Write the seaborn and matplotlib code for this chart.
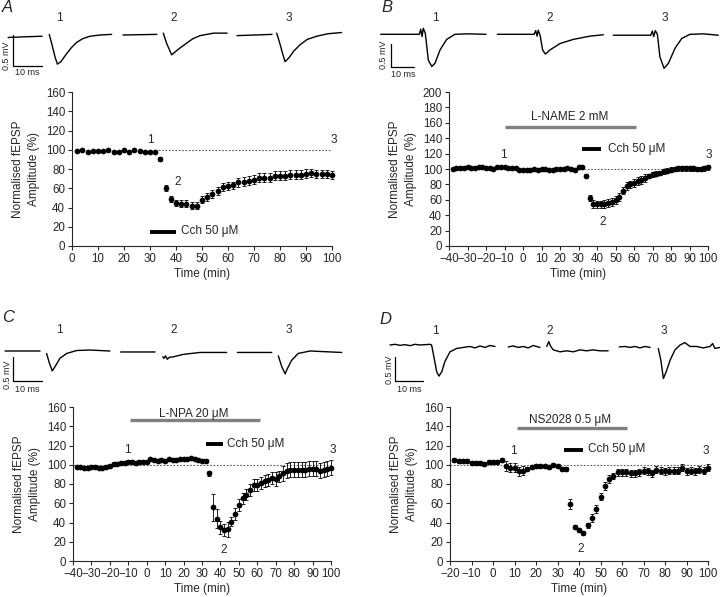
import numpy as np
import matplotlib
matplotlib.use("Agg")
import matplotlib.pyplot as plt
import seaborn as sns

nan = np.nan

# ==========================================
# TIME-COURSE DATA (normalised fEPSP, %)
# ==========================================

time_a = np.arange(2, 101, 2)
amp_a = [99, 100, 98, 99, 99, 99, 100, 98, 98, 100,
         98, 100, 99, 98, 98, 98, 90, 60, 49, 45,
         44, 44, 42, 42, 48, 51, 54, 57, 61, 62,
         63, 66, 67, 68, 69, 71, 71, 71, 73, 73,
         73, 74, 74, 74, 75, 76, 75, 75, 75, 74]
err_a = [1, 1, 1, 1, 1, 1, 1, 1, 1, 1,
         1, 1, 1, 1, 1, 1, 2, 3, 3, 3,
         3.5, 3.5, 3.5, 3.5, 3.5, 4, 4, 4, 4, 4,
         4, 4.5, 4.5, 4.5, 4.5, 4.5, 4.5, 4.5, 4.5, 4.5,
         4.5, 4.5, 4.5, 4.5, 4.5, 4.5, 4, 4, 4, 4]

time_b = np.arange(-38, 101, 2)
amp_b = [100, 101, 101, 101, 102, 101, 101, 102, 102, 101,
         101, 100, 102, 103, 103, 101, 101, 101, 99, 99,
         99, 99, 100, 99, 100, 100, 99, 99, 100, 100,
         100, 101, 100, 99, 102, 103, 91, 62, 55, 54,
         54, 55, 56, 57, 60, 64, 72, 78, 80, 82,
         84, 86, 88, 91, 93, 94, 95, 97, 98, 99,
         100, 101, 101, 101, 101, 101, 100, 100, 101, 102]
err_b = [1.5] * 36 + [2, 4, 5, 5,
         5, 5, 5, 5, 5, 5, 5, 5, 5, 5,
         5, 5, 5, 3, 3, 3, 3, 3, 3, 3,
         3, 3, 3, 3, 3, 3, 3, 3, 3, 3]

time_c = np.arange(-38, 101, 2)
amp_c = [98, 98, 97, 97, 98, 98, 97, 97, 98, 99,
         101, 101, 102, 102, 103, 103, 102, 103, 103, 103,
         106, 105, 104, 105, 104, 106, 105, 105, 106, 106,
         106, 107, 106, 105, 104, 104, 91, 56, 44, 35,
         32, 33, 41, 49, 58, 65, 69, 74, 79, 79,
         81, 83, 84, 86, 85, 88, 91, 94, 95, 95,
         95, 95, 95, 96, 96, 96, 94, 95, 96, 97]
err_c = [1.5] * 36 + [3, 14, 10, 7,
         6, 8, 5, 6, 6, 6, 6, 6, 6, 6,
         6, 6, 6, 6, 7, 6, 8, 8, 8, 8,
         8, 8, 8, 8, 8, 8, 8, 8, 8, 8]

time_d = np.arange(-18, 101, 2)
amp_d = [105, 104, 104, 104, 102, 102, 102, 101, 103, 103,
         103, 105, 99, 97, 97, 93, 94, 96, 98, 99,
         99, 99, 98, 100, 99, 96, 96, 59, 35, 32,
         29, 37, 45, 54, 67, 78, 85, 88, 92, 92,
         92, 91, 91, 92, 94, 93, 91, 95, 94, 93,
         94, 94, 94, 97, 93, 94, 93, 95, 94, 97]
err_d = [2] * 12 + [5, 5, 5, 5, 5, 2, 2, 2,
         2, 2, 2, 2, 2, 2, 2, 5, 2, 2,
         2, 3, 4, 4, 4, 4, 4, 3, 4, 4,
         4, 4, 4, 4, 4, 4, 4, 4, 4, 4,
         4, 4, 4, 4, 4, 4, 4, 4, 4, 4]

# ==========================================
# EXAMPLE TRACES (ms, mV), nan = blanked artefact
# ==========================================

trace_a_t = [
    [2.8, 8, 14.5, nan, 17.0, 18.0, 19.0, 19.8, 21.0, 23.0, 24.7, 26.4, 28.5, 31.0, 34.5, 38.5],
    [42.4, 48, 54.1, nan, 56.3, 57.5, 59.2, 61.5, 64.4, 66.5, 69.0, 73.6, 78.3],
    [81.7, 88, 93.8, nan, 95.4, 96.4, 97.4, 98.3, 99.6, 101.3, 103.4, 106.0, 109.2, 113.0, 117.8],
]
trace_a_v = [
    [-0.04, -0.03, -0.02, nan, 0.01, -0.17, -0.36, -0.47, -0.43, -0.30, -0.20, -0.12, -0.06, -0.02, 0.0, 0.01],
    [0.0, 0.005, 0.01, nan, 0.03, -0.14, -0.32, -0.23, -0.13, -0.06, -0.01, 0.03, 0.03],
    [-0.01, 0.0, 0.01, nan, 0.03, -0.12, -0.29, -0.43, -0.37, -0.26, -0.16, -0.07, -0.02, 0.02, 0.04],
]

trace_b_t = [
    [9.0, 16.0, 23.9, 25.8, 26.4, 27.0, 27.5, 28.4, 29.7, 31.2, 32.6, 34.8, 37.7, 41.3, 46.4, 54.8],
    [59.7, 67.0, 75.1, 75.7, 76.4, 77.0, 77.5, 78.3, 79.4, 80.6, 82.6, 87.0, 92.8, 100.0, 105.8],
    [110.1, 118.0, 125.8, 126.4, 127.1, 127.7, 128.4, 129.3, 130.4, 132.2, 134.1, 137.0, 139.9, 143.5, 149.3, 155.8],
]
trace_b_v = [
    [0, 0, 0, 0, 0.11, -0.05, 0.13, 0.02, -0.56, -0.70, -0.63, -0.34, -0.11, 0, 0.01, 0],
    [0, 0, 0, 0, 0.08, -0.04, 0.09, -0.02, -0.34, -0.43, -0.34, -0.20, -0.11, -0.04, -0.01],
    [-0.02, -0.02, -0.02, -0.02, 0.07, -0.05, 0.08, 0, -0.49, -0.74, -0.63, -0.30, -0.09, 0, 0.01, -0.02],
]

trace_c_t = [
    [1.8, 8.0, 14.1, nan, 16.4, 17.4, 18.4, 19.4, 21.1, 23.5, 27.0, 31.7, 38.7],
    [42.5, 48.5, 54.6, nan, 57.3, 57.7, 58.3, 58.9, 59.6, 61.0, 64.5, 70.4, 79.8],
    [83.6, 89.6, 95.7, nan, 98.0, 99.2, 100.4, 101.2, 102.7, 105.0, 109.2, 120.3],
]
trace_c_v = [
    [0, 0, 0, nan, -0.05, -0.25, -0.41, -0.32, -0.15, -0.05, 0.01, 0.02, 0],
    [-0.02, -0.02, -0.02, nan, -0.12, -0.15, -0.10, -0.17, -0.13, -0.12, -0.07, -0.03, -0.03],
    [-0.03, -0.03, -0.03, nan, -0.10, -0.32, -0.47, -0.36, -0.19, -0.05, 0, -0.03],
]

trace_d_t = [
    [10.6, 12.4, 14.1, 15.9, 17.7, 19.4, 21.2, 23.0, 24.7, 25.3, 26.1, 27.1, 27.9, 28.9, 30.0,
     31.8, 34.2, 36.5, 38.9, 40.6, 42.4, 44.2, 45.9, 47.7],
    [52.4, 54.1, 55.9, 57.7, 59.4, 61.2, 63.6, nan, 66.0, 66.7, 67.4, 68.3, 70.7, 73.0, 75.4,
     77.7, 80.1, 82.4, 84.8, 87.7],
    [91.6, 93.6, 95.4, 97.2, 98.9, 100.7, 102.5, nan, 105.4, 106.3, 107.2, 108.2, 109.6, 111.3,
     113.1, 114.8, 116.6, 119.0, 121.3, 123.7, 124.6, 125.4, 127.2],
]
trace_d_v = [
    [0, 0.014, -0.007, 0.007, -0.014, 0.014, 0, 0.007, 0.014, 0, -0.24, -0.55, -0.64, -0.55, -0.34,
     -0.14, -0.07, -0.05, -0.03, -0.06, -0.02, -0.05, -0.01, -0.03],
    [-0.04, -0.02, -0.05, -0.03, -0.06, -0.01, -0.05, nan, -0.03, 0.07, -0.03, -0.10, -0.14, -0.12,
     -0.14, -0.10, -0.12, -0.10, -0.12, -0.12],
    [-0.04, -0.03, -0.05, -0.03, -0.06, -0.03, -0.05, nan, -0.07, -0.31, -0.69, -0.55, -0.31, -0.10,
     0, 0.05, -0.03, -0.03, -0.06, -0.03, 0.03, -0.07, -0.05],
]

# ==========================================
# FIGURE SETUP
# ==========================================

sns.set_style("ticks")
plt.rcParams["font.family"] = ["Liberation Sans", "DejaVu Sans"]
plt.rcParams["axes.unicode_minus"] = True

W, H = 720, 597
fig = plt.figure(figsize=(7.2, 5.97), dpi=100)


def px_axes(x0, y0, x1, y1):
    return fig.add_axes([x0 / W, 1 - y1 / H, (x1 - x0) / W, (y1 - y0) / H])


def fig_label(x, y, s, **kw):
    fig.text(x / W, 1 - y / H, s, ha="center", va="center", **kw)


def time_course(rect, t, amp, err, xmin, ymax, dot_from):
    ax = px_axes(*rect)
    ax.errorbar(t, amp, yerr=err, fmt="none", ecolor="black",
                elinewidth=0.6, capsize=1.2, capthick=0.6, clip_on=False)
    sns.scatterplot(x=t, y=amp, ax=ax, color="black", s=17,
                    linewidth=0, zorder=3, clip_on=False)
    ax.plot([dot_from, 100], [100, 100], color="0.35", lw=0.8,
            ls=(0, (1.5, 1.5)), zorder=1)
    ax.set_xlim(xmin, 100)
    ax.set_ylim(0, ymax)
    ax.set_xticks(np.arange(xmin, 101, 10))
    ax.set_yticks(np.arange(0, ymax + 1, 20))
    ax.tick_params(direction="out", length=3, width=0.8, labelsize=8.3, pad=2)
    ax.set_xlabel("Time (min)", fontsize=8.5, labelpad=2)
    ax.set_ylabel("Normalised fEPSP\nAmplitude (%)", fontsize=8.5,
                  labelpad=4, linespacing=1.45)
    for sp in ["left", "bottom"]:
        ax.spines[sp].set_linewidth(0.8)
    sns.despine(ax=ax)
    return ax


def trace_panel(x0, y0, w, h, px_ms, px_mv, base_y, ts, vs, bar, mv_txt, ms_txt):
    ax = px_axes(x0, y0, x0 + w, y0 + h)
    for t, v in zip(ts, vs):
        ax.plot(t, v, color="black", lw=1.0, clip_on=False,
                solid_joinstyle="round")
    sx, top = bar
    ax.plot([sx, sx, sx + 10], [top, top - 0.5, top - 0.5], color="black", lw=0.9)
    ax.text(mv_txt[0], mv_txt[1], "0.5 mV", rotation=90, fontsize=6.5,
            ha="center", va="center")
    ax.text(ms_txt[0], ms_txt[1], "10 ms", fontsize=6.5, ha="center", va="center")
    ax.set_xlim(0, w / px_ms)
    ax.set_ylim(-(y0 + h - base_y) / px_mv, (base_y - y0) / px_mv)
    ax.axis("off")
    return ax


# ==========================================
# PANEL A
# ==========================================

trace_panel(0, 20, 360, 60, 2.9, 62, 35, trace_a_t, trace_a_v,
            (4.5, 0.0), (2.2, -0.33), (9.5, -0.61))
ax = time_course((72, 92, 332, 246), time_a, amp_a, err_a, 0, 160, 32)
ax.plot([30, 40], [15, 15], color="black", lw=2.8, solid_capstyle="butt")
ax.text(42, 15.5, "Cch 50 μM", fontsize=8.5, va="center")
ax.text(30, 110, "1", fontsize=8.5, ha="center", va="center")
ax.text(100.5, 110, "3", fontsize=8.5, ha="center", va="center")
ax.text(40.5, 67, "2", fontsize=8.5, ha="center", va="center")

# ==========================================
# PANEL B
# ==========================================

trace_panel(360, 20, 360, 62, 2.3, 46, 34.3, trace_b_t, trace_b_v,
            (13.3, -0.22), (10.4, -0.45), (18.8, -0.87))
ax = time_course((449, 92, 708, 246), time_b, amp_b, err_b, -40, 200, 33)
ax.plot([-9.5, 61.3], [155, 155], color="0.5", lw=2.4, solid_capstyle="butt")
ax.text(25, 163, "L-NAME 2 mM", fontsize=8.5, ha="center", va="baseline")
ax.plot([32, 42.4], [126, 126], color="black", lw=2.8, solid_capstyle="butt")
ax.text(46, 126.5, "Cch 50 μM", fontsize=8.5, va="center")
ax.text(-10.5, 118, "1", fontsize=8.5, ha="center", va="center")
ax.text(100.5, 118, "3", fontsize=8.5, ha="center", va="center")
ax.text(43, 31, "2", fontsize=8.5, ha="center", va="center")

# ==========================================
# PANEL C
# ==========================================

trace_panel(0, 335, 360, 62, 2.84, 48.6, 351, trace_c_t, trace_c_v,
            (4.7, -0.12), (2.6, -0.49), (9.6, -0.80))
ax = time_course((73, 407, 331, 561), time_c, amp_c, err_c, -40, 160, -40)
ax.plot([-9.3, 61.5], [147, 147], color="0.5", lw=2.4, solid_capstyle="butt")
ax.text(25.4, 149.5, "L-NPA 20 μM", fontsize=8.5, ha="center", va="baseline")
ax.plot([32.1, 41.6], [121.3, 121.3], color="black", lw=2.8, solid_capstyle="butt")
ax.text(43.5, 122, "Cch 50 μM", fontsize=8.5, va="center")
ax.text(-10.7, 115, "1", fontsize=8.5, ha="center", va="center")
ax.text(100.7, 115, "3", fontsize=8.5, ha="center", va="center")
ax.text(42, 11.4, "2", fontsize=8.5, ha="center", va="center")

# ==========================================
# PANEL D
# ==========================================

trace_panel(360, 330, 360, 67, 2.83, 48.6, 345, trace_d_t, trace_d_v,
            (12.4, -0.24), (10.6, -0.51), (17.4, -0.91))
ax = time_course((450, 407, 708, 561), time_d, amp_d, err_d, -20, 160, -20)
ax.plot([11, 62.1], [138.6, 138.6], color="0.5", lw=2.4, solid_capstyle="butt")
ax.text(36, 143.7, "NS2028 0.5 μM", fontsize=8.5, ha="center", va="baseline")
ax.plot([33, 42], [115.8, 115.8], color="black", lw=2.8, solid_capstyle="butt")
ax.text(44.3, 116.5, "Cch 50 μM", fontsize=8.5, va="center")
ax.text(9.7, 114, "1", fontsize=8.5, ha="center", va="center")
ax.text(99.2, 114, "3", fontsize=8.5, ha="center", va="center")
ax.text(40.9, 12, "2", fontsize=8.5, ha="center", va="center")

# ==========================================
# PANEL LETTERS AND TRACE NUMBERS
# ==========================================

for letter, (x, y) in zip("ABCD", [(7, 8), (387, 8), (8, 318), (385, 319)]):
    fig_label(x, y, letter, fontsize=12, style="italic")

for xs, y in [((59, 174, 289), 18), ((435, 550, 665), 18),
              ((59, 174, 289), 330), ((435, 550, 664), 331)]:
    for x, s in zip(xs, "123"):
        fig_label(x, y, s, fontsize=8.5)

fig.savefig("out.png", dpi=100)
